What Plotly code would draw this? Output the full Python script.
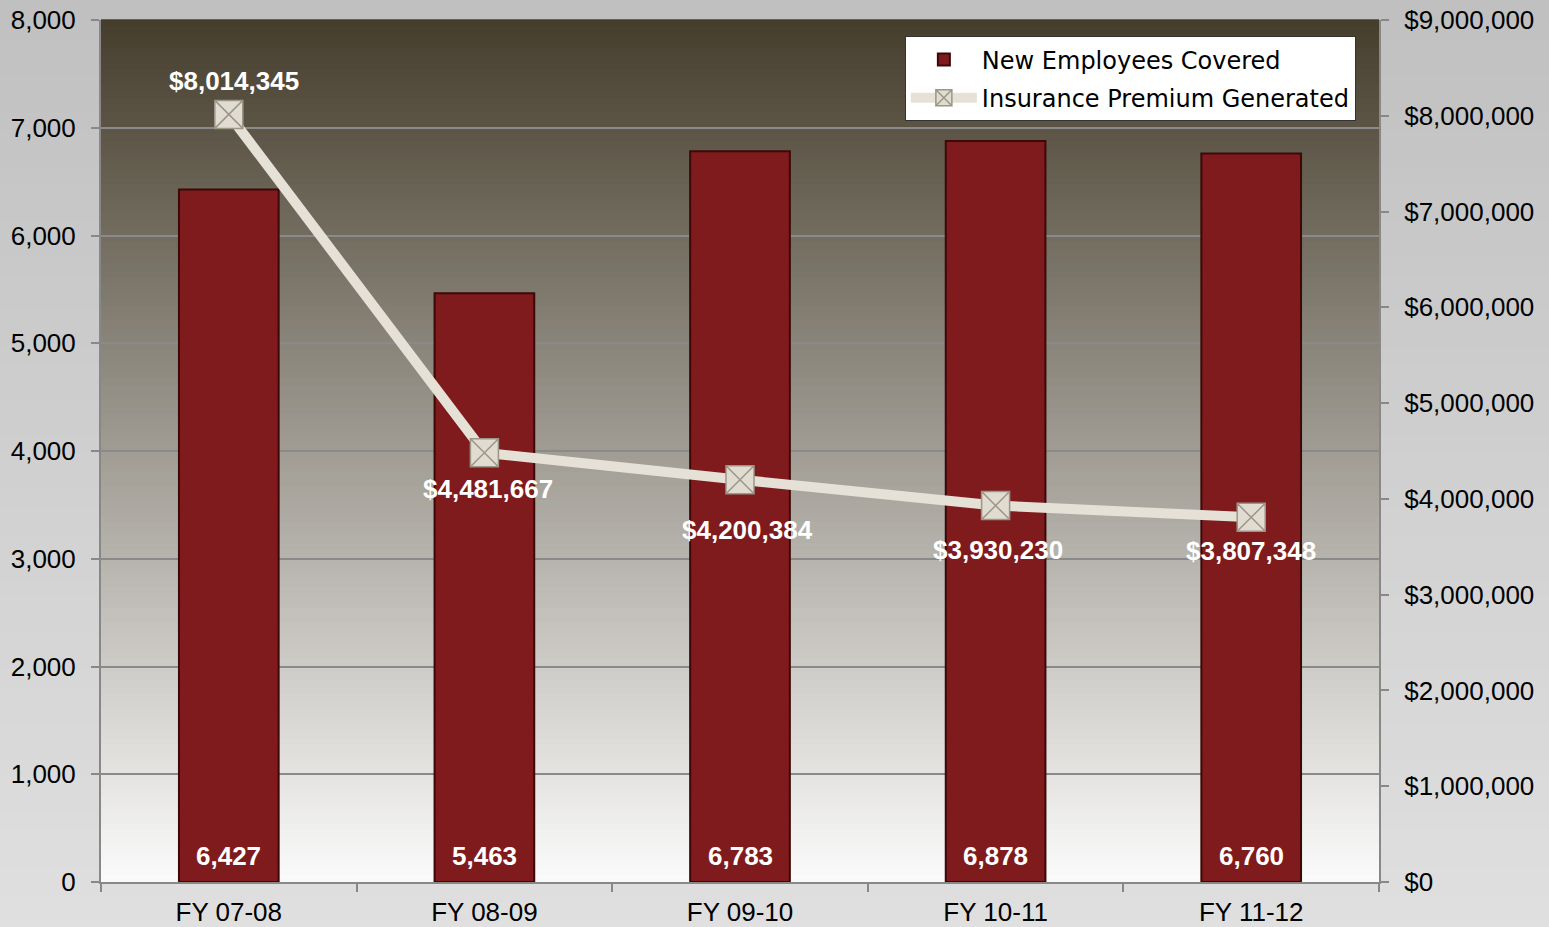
import plotly.graph_objects as go

categories = ["FY 07-08", "FY 08-09", "FY 09-10", "FY 10-11", "FY 11-12"]
employees = [6427, 5463, 6783, 6878, 6760]
premium = [8014345, 4481667, 4200384, 3930230, 3807348]
left_ticks = [0, 1000, 2000, 3000, 4000, 5000, 6000, 7000, 8000]
right_ticks = [0, 1000000, 2000000, 3000000, 4000000, 5000000, 6000000, 7000000, 8000000, 9000000]

# label offsets (pixels) for premium labels, as placed in the original
premium_label_shift = [33, -36, -50, -44, -34]
premium_label_xshift = [5, 4, 7, 2, 0]

fig = go.Figure()

fig.add_trace(go.Bar(
    x=categories, y=employees, name="New Employees Covered",
    marker=dict(color="#7f1b1d", line=dict(color="#3c0808", width=2)),
    legendgroup="a", yaxis="y",
))

fig.add_trace(go.Scatter(
    x=categories, y=premium, name="Insurance Premium Generated",
    mode="lines+markers",
    line=dict(color="#e6e1d6", width=10),
    marker=dict(symbol="square-x", size=28, color="#e0dcd2",
                line=dict(color="#9c9686", width=1.5)),
    legendgroup="b", yaxis="y2",
))

labelfont = dict(family="Liberation Sans", size=26, color="white", weight="bold")
annotations = []
for c, v in zip(categories, employees):
    annotations.append(dict(x=c, y=0, xref="x", yref="y", text=f"{v:,}",
                            showarrow=False, yanchor="middle", yshift=26,
                            font=labelfont))
for c, v, dy, dx in zip(categories, premium, premium_label_shift, premium_label_xshift):
    annotations.append(dict(x=c, y=v, xref="x", yref="y2", text=f"${v:,}",
                            showarrow=False, yanchor="middle", yshift=dy, xshift=dx,
                            font=labelfont))

# plot-area vertical gradient
top = (0x46, 0x3e, 0x2d)
bot = (0xfa, 0xfa, 0xfa)
N = 120
shapes = []
P = 60
for i in range(P):
    t = i / (P - 1)
    c0 = (0xbe, 0xbe, 0xbe)
    c1 = (0xe2, 0xe2, 0xe2)
    col = tuple(round(c0[k] + (c1[k] - c0[k]) * t) for k in range(3))
    shapes.append(dict(type="rect", xref="paper", yref="paper",
                       x0=-0.2, x1=1.3, y0=1.1 - (i + 1) * 1.25 / P, y1=1.1 - i * 1.25 / P + 0.001,
                       fillcolor="rgb(%d,%d,%d)" % col, line=dict(width=0), layer="below"))
for i in range(N):
    t = i / (N - 1)
    col = tuple(round(top[k] + (bot[k] - top[k]) * t) for k in range(3))
    shapes.append(dict(type="rect", xref="paper", yref="paper",
                       x0=0, x1=1, y0=1 - (i + 1) / N, y1=1 - i / N + 0.001,
                       fillcolor="rgb(%d,%d,%d)" % col, line=dict(width=0), layer="below"))

tickfont = dict(family="Liberation Sans", size=26, color="black")

fig.update_layout(
    width=1549, height=927,
    margin=dict(l=101, r=170, t=20, b=45),
    paper_bgcolor="#c8c8c8", plot_bgcolor="rgba(0,0,0,0)",
    shapes=shapes,
    annotations=annotations,
    bargap=0.61,
    showlegend=True,
    legend=dict(x=0.629, y=0.981, xanchor="left", yanchor="top",
                bgcolor="white", bordercolor="#333333", borderwidth=1,
                font=dict(family="DejaVu Sans", size=24, color="black"),
                traceorder="grouped", tracegroupgap=4, itemwidth=66),
    xaxis=dict(type="category", tickson="boundaries", ticks="outside", ticklen=8,
               tickcolor="#888888", tickwidth=2, showline=True, linecolor="#888888",
               linewidth=2, showgrid=False, ticklabelstandoff=6, automargin=False,
               tickfont=tickfont),
    yaxis=dict(range=[0, 8000], tickvals=left_ticks, tickformat=",",
               ticks="outside", ticklen=8, tickcolor="#888888", tickwidth=2,
               showline=True, linecolor="#888888", linewidth=2,
               showgrid=True, gridcolor="#8a8a8a", gridwidth=2, zeroline=False,
               ticklabelstandoff=10, automargin=False, tickfont=tickfont),
    yaxis2=dict(range=[0, 9000000], tickvals=right_ticks, tickformat="$,",
                overlaying="y", side="right", ticks="outside", ticklen=8,
                tickcolor="#888888", tickwidth=2, showline=True, linecolor="#888888",
                linewidth=2, showgrid=False, zeroline=False, automargin=False,
                ticklabelstandoff=10, tickfont=tickfont),
)

fig.write_html("out.html", config={"displayModeBar": False},
               post_script="document.body.style.margin='0';document.body.style.overflow='hidden';document.body.style.background='#c8c8c8';")
